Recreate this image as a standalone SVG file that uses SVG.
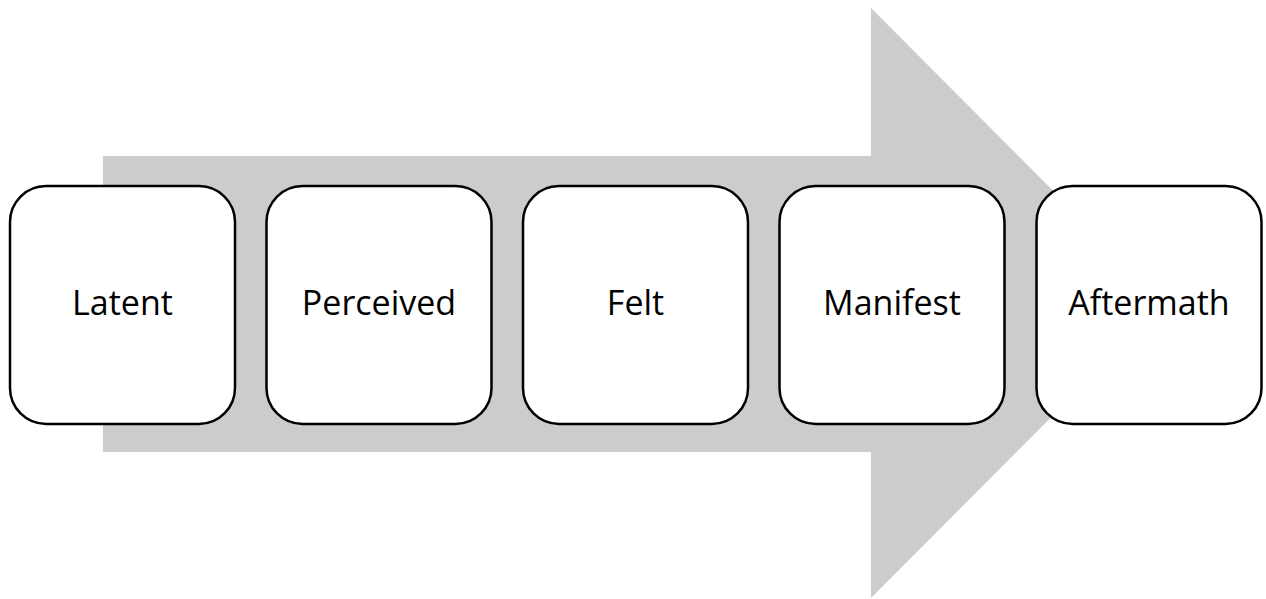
<svg xmlns="http://www.w3.org/2000/svg" width="1266" height="599" viewBox="0 0 1266 599">
  <style>
    .box { fill: #ffffff; stroke: #000000; stroke-width: 2.5; }
    .label { font-family: "Open Sans", "Noto Sans", sans-serif; font-size: 34px; fill: #000000; text-anchor: middle; }
  </style>
  <rect width="1266" height="599" fill="#ffffff"/>
  <!-- background process arrow -->
  <g id="process-arrow">
    <polygon points="103,156 871,156 871,8 1165,303 871,598 871,452 103,452" fill="#cccccc"/>
  </g>
  <g id="connectors"></g>
  <g id="latent">
    <rect class="box" x="10" y="186" width="225" height="238" rx="36" ry="36"/>
    <text class="label" x="122.5" y="315">Latent</text>
  </g>
  <g id="perceived">
    <rect class="box" x="266.5" y="186" width="225" height="238" rx="36" ry="36"/>
    <text class="label" x="379" y="315">Perceived</text>
  </g>
  <g id="felt">
    <rect class="box" x="523" y="186" width="225" height="238" rx="36" ry="36"/>
    <text class="label" x="635.5" y="315">Felt</text>
  </g>
  <g id="manifest">
    <rect class="box" x="779.5" y="186" width="225" height="238" rx="36" ry="36"/>
    <text class="label" x="892" y="315">Manifest</text>
  </g>
  <g id="aftermath">
    <rect class="box" x="1036.5" y="186" width="225" height="238" rx="36" ry="36"/>
    <text class="label" x="1149" y="315">Aftermath</text>
  </g>
</svg>
